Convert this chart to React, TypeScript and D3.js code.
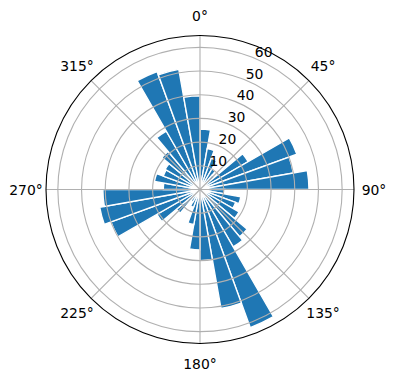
import React from "react";
import * as d3 from "d3";

// 36 direction bins of 10°, clockwise from north (0°)
const binStarts = d3.range(0, 360, 10);
const values = [
  25.5, 17.5, 14, 10, 8, 23.5, 43.5, 40, 46,
  10.5, 17.5, 16, 19, 26, 28, 62, 51, 30,
  25.5, 15, 8, 6, 13, 21, 40, 43, 41,
  15.5, 19.5, 16.5, 17, 21, 28.5, 53, 51.5, 39.5,
];
const radialTicks = [10, 20, 30, 40, 50, 60];
const angleTicks = [0, 45, 90, 135, 180, 225, 270, 315];
const rMax = 65;

const W = 396;
const H = 380;
const cx = 200;
const cy = 189.5;
const R = 154;
const FONT = "'DejaVu Sans', sans-serif";

export default function App() {
  const r = d3.scaleLinear().domain([0, rMax]).range([0, R]);
  const a = d3.scaleLinear().domain([0, 360]).range([0, 2 * Math.PI]);
  const arc = d3.arc<any>();
  const binW = 10;

  return (
    <svg
      width={W}
      height={H}
      style={{ position: "absolute", left: 0, top: 0, background: "white" }}
    >
      <rect width={W} height={H} fill="white" />
      <g transform={`translate(${cx},${cy})`}>
        {values.map((v, i) => (
          <path
            key={i}
            d={arc({
              innerRadius: 0,
              outerRadius: r(v),
              startAngle: a(binStarts[i]),
              endAngle: a(binStarts[i] + binW),
            }) as string}
            fill="#1f77b4"
            stroke="white"
            strokeWidth={1.4}
          />
        ))}
        {radialTicks.map((t) => (
          <circle key={t} r={r(t)} fill="none" stroke="#b0b0b0" strokeWidth={1.1} />
        ))}
        {angleTicks.map((t) => (
          <line
            key={t}
            x1={0}
            y1={0}
            x2={R * Math.sin(a(t))}
            y2={-R * Math.cos(a(t))}
            stroke="#b0b0b0"
            strokeWidth={1.1}
          />
        ))}
        <circle r={R} fill="none" stroke="black" strokeWidth={1.1} />
        {angleTicks.map((t) => (
          <text
            key={t}
            x={174 * Math.sin(a(t))}
            y={-174 * Math.cos(a(t))}
            textAnchor="middle"
            dominantBaseline="central"
            fontFamily={FONT}
            fontSize={13.9}
            fill="black"
          >
            {t}°
          </text>
        ))}
        {radialTicks.map((t) => (
          <text
            key={t}
            x={r(t) * Math.sin(a(22.5)) + 9.3}
            y={-r(t) * Math.cos(a(22.5)) - 6.5}
            textAnchor="middle"
            dominantBaseline="central"
            fontFamily={FONT}
            fontSize={13.9}
            fill="black"
          >
            {t}
          </text>
        ))}
      </g>
    </svg>
  );
}
